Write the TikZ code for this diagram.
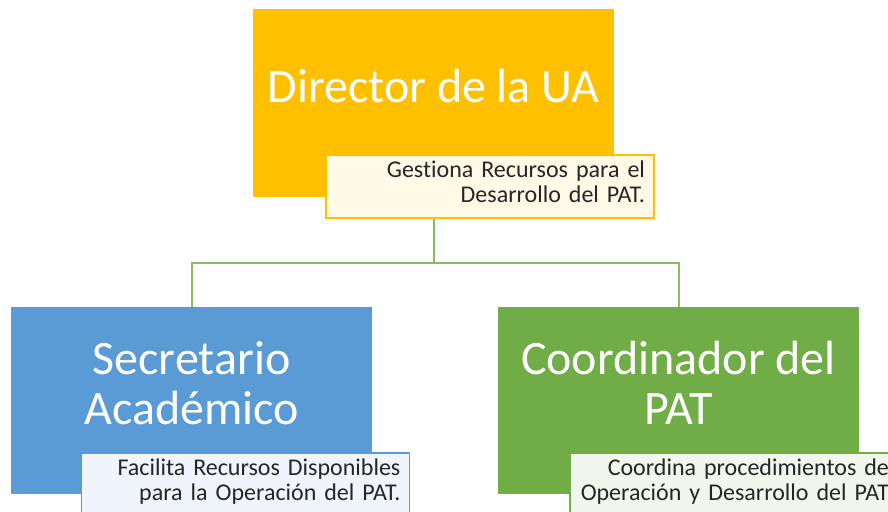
\documentclass[tikz,border=0pt]{standalone}
\usepackage{fontspec}
\setmainfont{Carlito}[Ligatures=NoCommon]
\definecolor{uaorange}{HTML}{FFC000}
\definecolor{uablue}{HTML}{5B9BD5}
\definecolor{uagreen}{HTML}{70AD47}
\definecolor{linkgreen}{HTML}{86BF60}

\begin{document}
\begin{tikzpicture}[x=1pt,y=-1pt,
    rolebox/.style={fill=#1,minimum width=361pt,minimum height=187pt,inner sep=0pt},
    roletext/.style={text=white,align=center,inner sep=0pt,font=\fontsize{48}{50}\selectfont},
    taskbox/.style={draw=#1,fill=#1!10,line width=1.5pt,minimum width=328pt,minimum height=63pt,
        text width=310pt,inner xsep=9pt,inner ysep=0pt,align=right,text depth=34pt,
        text=black!85,font=\fontsize{24}{25}\selectfont},
    link/.style={draw=linkgreen,line width=2pt}]
    \useasboundingbox (0,0) rectangle (888,511);
    \clip (0,0) rectangle (888,511);
    \node[rolebox=uaorange] (dir) at (433.5,103) {};
    \node[rolebox=uablue] (sec) at (191.5,400.5) {};
    \node[rolebox=uagreen] (coord) at (678.5,400.5) {};
    \node[roletext] (dirname) at (433.5,86.5) {Director de la UA};
    \node[roletext] (secname) at (191.5,383) {Secretario\\Académico};
    \node[roletext] (coordname) at (678.5,383) {Coordinador del\\PAT};
    \draw[link] (dir.south) -- ++(0,66.5) coordinate (split);
    \draw[link] (split) -| (sec.north);
    \draw[link] (split) -| (coord.north);
    \node[taskbox=uaorange] (dirtask) at (490,186.5) {Gestiona Recursos para el\\Desarrollo del PAT.};
    \node[taskbox=uablue] (sectask) at (245.5,484.5) {Facilita Recursos Disponibles\\para la Operación del PAT.};
    \node[taskbox=uagreen] (coordtask) at (734,484.5) {Coordina procedimientos de\\Operación y Desarrollo del PAT};
\end{tikzpicture}
\end{document}
